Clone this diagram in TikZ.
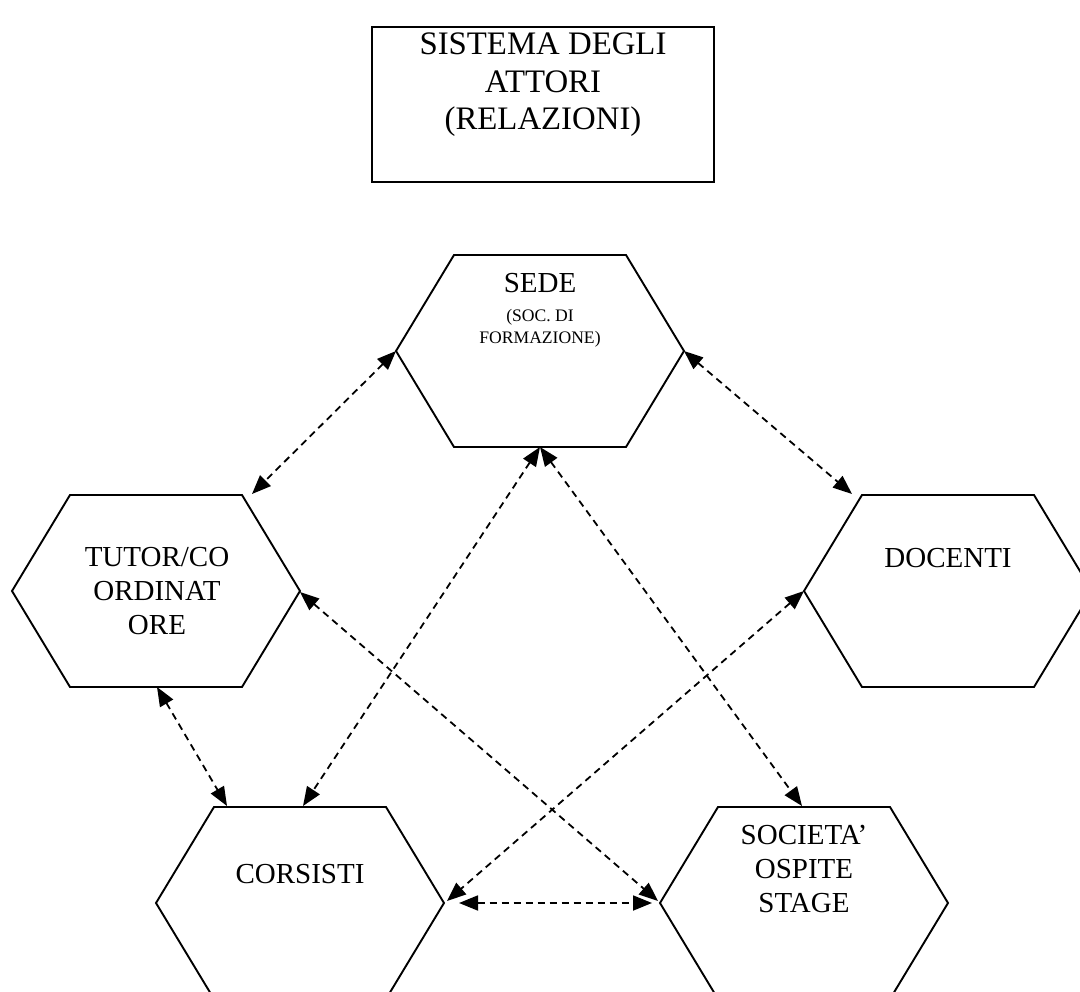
\documentclass[tikz,border=0pt]{standalone}
\usepackage{fontspec}
\setmainfont{Liberation Serif}
\usetikzlibrary{arrows.meta}
\tikzset{
  hexline/.style={line width=1.9pt, line join=miter},
  boxline/.style={line width=1.9pt},
  rel/.style={line width=1.8pt, dash pattern=on 7pt off 5pt,
    {Triangle[length=19pt,width=15pt]}-{Triangle[length=19pt,width=15pt]}},
  bigtxt/.style={inner sep=0pt, align=center, font=\fontsize{32.8}{37.5}\selectfont},
  hextxt/.style={inner sep=0pt, align=center, font=\fontsize{29}{34}\selectfont},
  smalltxt/.style={inner sep=0pt, align=center, font=\fontsize{17.6}{22}\selectfont},
}
\newcommand{\myhex}[3]{%
  \coordinate (#1) at (#2,#3);
  \coordinate (#1-l) at (#2-144,#3);
  \coordinate (#1-r) at (#2+144,#3);
  \coordinate (#1-tl) at (#2-86,#3-96);
  \coordinate (#1-tr) at (#2+86,#3-96);
  \coordinate (#1-bl) at (#2-86,#3+96);
  \coordinate (#1-br) at (#2+86,#3+96);
  \coordinate (#1-b) at (#2,#3+96);
  \coordinate (#1-t) at (#2,#3-96);
  \draw[hexline] (#1-l) -- (#1-tl) -- (#1-tr) -- (#1-r) -- (#1-br) -- (#1-bl) -- cycle;
}
\begin{document}
\begin{tikzpicture}[x=1pt,y=-1pt]
\useasboundingbox (0,0) rectangle (1080,992);
\begin{scope}
\clip (0,0) rectangle (1080,992);
% title box
\draw[boxline] (372,27) rectangle (714,182);
\node[bigtxt, anchor=base] (title) at (543,130) {SISTEMA DEGLI\\ATTORI\\(RELAZIONI)};

% hexagons
\myhex{sede}{540}{351}
\myhex{tutor}{156}{591}
\myhex{docenti}{948}{591}
\myhex{corsisti}{300}{903}
\myhex{societa}{804}{903}
\end{scope}

\node[hextxt, anchor=base] (sedeT) at (540,293) {SEDE};
\node[smalltxt, anchor=base] (sedeS) at (540,344) {(SOC. DI\\FORMAZIONE)};
\node[hextxt, anchor=base] (tutorT) at (157,634) {TUTOR/CO\\ORDINAT\\ORE};
\node[hextxt, anchor=base] (docentiT) at (948,567) {DOCENTI};
\node[hextxt, anchor=base] (corsistiT) at (300,883) {CORSISTI};
\node[hextxt, anchor=base] (societaT) at (804,912) {SOCIETA’\\OSPITE\\STAGE};

% connector end points
\coordinate (tutorA) at (252,494);
\coordinate (docentiA) at (852,494);
\coordinate (corsistiA) at (303,806);
\coordinate (corsistiB) at (227,806);
\coordinate (societaA) at (802,806);
\coordinate (tutorB) at (157,687);
\coordinate (tutorC) at (300,592);
\coordinate (societaB) at (658,901);
\coordinate (corsistiC) at (447,901);
\coordinate (docentiB) at (804,591);
\coordinate (corsistiD) at (459,903);
\coordinate (societaC) at (652,903);

% connectors
\draw[rel] (sede-l) -- (tutorA);
\draw[rel] (sede-r) -- (docentiA);
\draw[rel] (sede-b) -- (corsistiA);
\draw[rel] (sede-b) -- (societaA);
\draw[rel] (tutorB) -- (corsistiB);
\draw[rel] (tutorC) -- (societaB);
\draw[rel] (docentiB) -- (corsistiC);
\draw[rel] (corsistiD) -- (societaC);
\end{tikzpicture}
\end{document}
